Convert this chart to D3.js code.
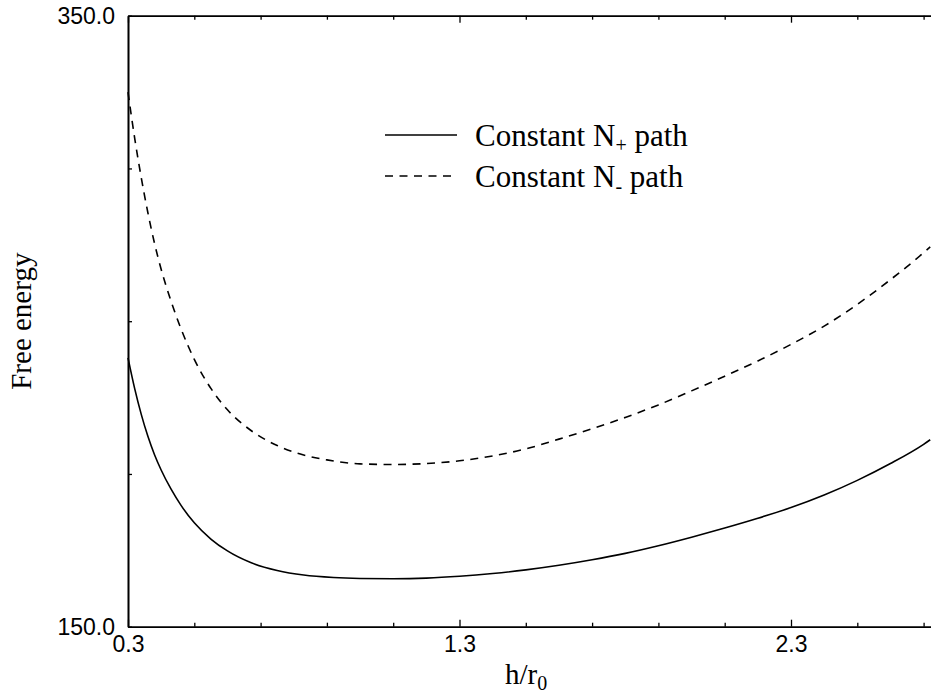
<!DOCTYPE html>
<html>
<head>
<meta charset="utf-8">
<script src="https://cdn.jsdelivr.net/npm/d3@7"></script>
<style>
    body { margin: 0; background: #fff; }
    svg { display: block; }
    .tick text { font-family: 'Liberation Sans', Arial, sans-serif; font-size: 23px; fill: #000; }
    .title { font-family: 'Liberation Serif', 'Times New Roman', serif; fill: #000; }
</style>
</head>
<body>
<svg id="chart" width="931" height="696"></svg>
<script>
'use strict';

// values
const hValuesPlus = [0.30, 0.32, 0.34, 0.36, 0.38, 0.40, 0.43, 0.46, 0.50, 0.55, 0.60, 0.67, 0.75, 0.83, 0.92, 1.00,
    1.10, 1.20, 1.30, 1.40, 1.50, 1.60, 1.70, 1.80, 1.90, 2.00, 2.10, 2.20, 2.30, 2.40, 2.50, 2.60, 2.70, 2.72];
const plusPath = [238.0, 228.0, 219.5, 212.3, 206.3, 201.3, 195.0, 189.7, 184.0, 178.7, 174.8, 171.0, 168.4, 166.9, 166.1, 165.8,
    165.7, 165.9, 166.5, 167.4, 168.6, 170.1, 171.9, 174.0, 176.5, 179.3, 182.3, 185.5, 189.0, 193.1, 197.9, 203.4, 209.7, 211.2];

const hValuesMinus = [0.30, 0.32, 0.34, 0.36, 0.38, 0.40, 0.43, 0.46, 0.50, 0.55, 0.60, 0.67, 0.75, 0.82, 0.90, 1.00,
    1.10, 1.20, 1.30, 1.40, 1.50, 1.60, 1.70, 1.80, 1.90, 2.00, 2.10, 2.20, 2.30, 2.40, 2.50, 2.60, 2.70, 2.72];
const minusPath = [325.0, 310.0, 297.0, 285.5, 275.5, 267.0, 256.5, 247.5, 237.5, 228.0, 221.0, 214.3, 209.3, 206.5, 204.6, 203.3,
    203.1, 203.4, 204.3, 205.9, 208.2, 211.4, 214.8, 218.5, 222.6, 227.2, 232.0, 237.0, 242.4, 248.4, 255.5, 263.6, 272.4, 274.3];

const xMajorTicks = [0.3, 1.3, 2.3];
const xMinorTicks = [0.5, 0.7, 0.9, 1.1, 1.5, 1.7, 1.9, 2.1, 2.5, 2.7];
const yMajorTicks = [150, 350];
const yMinorTicks = [200, 250, 300];

const plotLeft = 128;
const plotTop = 15.7;
const plotBottom = 626.7;
const unit = 331.5; // px per 1.0 of h/r0

const svg = d3.select('#chart');

const x = d3.scaleLinear().domain([0.3, 2.8]).range([plotLeft, plotLeft + 2.5 * unit]);
const y = d3.scaleLinear().domain([150, 350]).range([plotBottom, plotTop]);

function styleAxis(g) {
    g.select('.domain').attr('stroke', '#000').attr('stroke-width', 1.6);
    g.selectAll('.tick line').attr('stroke', '#000').attr('stroke-width', 1.3);
}

// frame + ticks (inward), only bottom and left carry labels
svg.append('g')
    .attr('transform', `translate(0, ${plotBottom})`)
    .call(d3.axisBottom(x).tickValues(xMajorTicks).tickSize(-7).tickSizeOuter(0)
        .tickPadding(9).tickFormat(d3.format('.1f')))
    .call(styleAxis);

svg.append('g')
    .attr('transform', `translate(0, ${plotBottom})`)
    .call(d3.axisBottom(x).tickValues(xMinorTicks).tickSize(-4).tickSizeOuter(0).tickFormat(''))
    .call(styleAxis);

svg.append('g')
    .attr('transform', `translate(0, ${plotTop})`)
    .call(d3.axisTop(x).tickValues(xMajorTicks).tickSize(-7).tickSizeOuter(0).tickFormat(''))
    .call(styleAxis);

svg.append('g')
    .attr('transform', `translate(0, ${plotTop})`)
    .call(d3.axisTop(x).tickValues(xMinorTicks).tickSize(-4).tickSizeOuter(0).tickFormat(''))
    .call(styleAxis);

svg.append('g')
    .attr('transform', `translate(${plotLeft}, 0)`)
    .call(d3.axisLeft(y).tickValues(yMajorTicks).tickSize(-4).tickSizeOuter(0)
        .tickPadding(13).tickFormat(d3.format('.1f')))
    .call(styleAxis);

svg.append('g')
    .attr('transform', `translate(${plotLeft}, 0)`)
    .call(d3.axisLeft(y).tickValues(yMinorTicks).tickSize(-4).tickSizeOuter(0).tickFormat(''))
    .call(styleAxis);

// curves
const line = d3.line()
    .x((d) => x(d[0]))
    .y((d) => y(d[1]))
    .curve(d3.curveMonotoneX);

svg.append('path')
    .datum(d3.zip(hValuesPlus, plusPath))
    .attr('d', line)
    .attr('fill', 'none')
    .attr('stroke', '#000')
    .attr('stroke-width', 1.6);

svg.append('path')
    .datum(d3.zip(hValuesMinus, minusPath))
    .attr('d', line)
    .attr('fill', 'none')
    .attr('stroke', '#000')
    .attr('stroke-width', 1.6)
    .attr('stroke-dasharray', '8,6.5');

// legend
const legend = [
    {sub: '+', dash: null, ly: 135},
    {sub: '-', dash: '8,6.5', ly: 176}
];

legend.forEach((item) => {

    svg.append('line')
        .attr('x1', 385).attr('x2', 457)
        .attr('y1', item.ly).attr('y2', item.ly)
        .attr('stroke', '#000')
        .attr('stroke-width', 1.6)
        .attr('stroke-dasharray', item.dash);

    let t = svg.append('text')
        .attr('class', 'title')
        .attr('x', 475)
        .attr('y', item.ly + 11)
        .attr('font-size', 31);
    t.append('tspan').text('Constant N');
    t.append('tspan').attr('font-size', 20).attr('dy', 6).text(item.sub);
    t.append('tspan').attr('dy', -6).text(' path');
});

// axis titles
let xt = svg.append('text')
    .attr('class', 'title')
    .attr('x', 505)
    .attr('y', 684)
    .attr('font-size', 29);
xt.append('tspan').text('h/r');
xt.append('tspan').attr('font-size', 20).attr('dy', 6).text('0');

svg.append('text')
    .attr('class', 'title')
    .attr('transform', `translate(31, ${(plotTop + plotBottom) / 2}) rotate(-90)`)
    .attr('text-anchor', 'middle')
    .attr('font-size', 29)
    .text('Free energy');
</script>
</body>
</html>
